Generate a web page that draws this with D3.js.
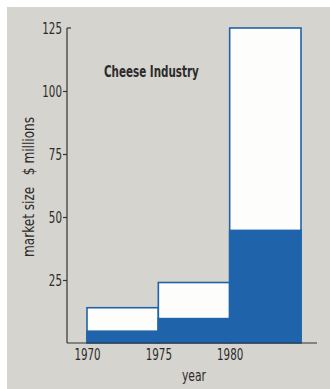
<!DOCTYPE html>
<html><head><meta charset="utf-8">
<script src="https://cdn.jsdelivr.net/npm/d3@7"></script>
<style>
html,body{margin:0;padding:0;background:#fff;}
svg{display:block;}
text{font-family:"DejaVu Sans Condensed","Liberation Sans Narrow",sans-serif;fill:#2b2b2b;}
</style></head><body>
<svg id="c" width="330" height="389"></svg>
<script>
const title = "Cheese Industry";
const years = [1970, 1975, 1980];
const totals = [14, 24, 125];
const blueParts = [5, 10, 45];
const yTicks = [25, 50, 75, 100, 125];
const xTicks = [1970, 1975, 1980];
const xLabel = "year";
const yLabel = "market size   $ millions";

const svg = d3.select("#c");
svg.append("rect").attr("x",7).attr("y",7).attr("width",323).attr("height",382).attr("fill","#d6d4cf");

const x = d3.scaleLinear().domain([1970,1985]).range([87,301]);
const y = d3.scaleLinear().domain([0,125]).range([343,28]);
const blue = "#1f63aa";

// horizontally narrow a text around its anchor point
function narrow(sel, sx){
  sel.each(function(){
    const t = d3.select(this);
    const tx = +t.attr("x")||0, ty = +t.attr("y")||0;
    const prev = t.attr("transform") || "";
    t.attr("x",0).attr("y",0).attr("transform", `translate(${tx},${ty}) scale(${sx},1)`);
  });
}

const data = years.map((yr,i)=>({yr, total:totals[i], b:blueParts[i]}));

const g = svg.append("g");
g.selectAll("rect.tot").data(data).join("rect").attr("class","tot")
  .attr("x",d=>x(d.yr)).attr("width",d=>x(d.yr+5)-x(d.yr))
  .attr("y",d=>y(d.total)).attr("height",d=>y(0)-y(d.total))
  .attr("fill","#fdfdfb").attr("stroke",blue).attr("stroke-width",1.6);
g.selectAll("rect.blu").data(data).join("rect").attr("class","blu")
  .attr("x",d=>x(d.yr)-0.8).attr("width",d=>x(d.yr+5)-x(d.yr)+1.6)
  .attr("y",d=>y(d.b)).attr("height",d=>y(0)-y(d.b))
  .attr("fill",blue);

// y axis
const yAxis = d3.axisLeft(y).tickValues(yTicks.filter(v=>v<125)).tickSize(4).tickPadding(1);
const ya = svg.append("g").attr("transform","translate(67,0)").call(yAxis);
ya.select(".domain").remove();
ya.attr("font-family",null).attr("font-size",null);
ya.append("line").attr("x1",0).attr("x2",0).attr("y1",y(125)).attr("y2",y(0)).attr("stroke","#333").attr("stroke-width",1.2);
ya.append("line").attr("x1",0).attr("x2",4).attr("y1",y(125)).attr("y2",y(125)).attr("stroke","#333").attr("stroke-width",1.2);
ya.append("g").append("text").attr("x",-5).attr("y",y(125)).attr("dy","0.35em").attr("text-anchor","end").text("125");
ya.selectAll(".tick line").attr("stroke","#333").attr("stroke-width",1.2);
ya.selectAll("text").attr("font-size",15.5).attr("fill","#2b2b2b").attr("dy",null).attr("dominant-baseline","central");
narrow(ya.selectAll("text"), 0.74);

// x axis
const xAxis = d3.axisBottom(x).tickValues(xTicks).tickSize(0).tickPadding(6).tickFormat(d3.format("d"));
const xa = svg.append("g").attr("transform","translate(0,343)").call(xAxis);
xa.select(".domain").remove();
xa.attr("font-family",null).attr("font-size",null);
xa.append("line").attr("x1",67).attr("x2",317).attr("y1",0).attr("y2",0).attr("stroke","#333").attr("stroke-width",1.2);
xa.selectAll("text").attr("font-size",15.5).attr("fill","#2b2b2b").attr("dy",null).attr("y",17);
narrow(xa.selectAll("text"), 0.74);

const xl = svg.append("text").attr("x",194).attr("y",381).attr("text-anchor","middle").attr("font-size",15).text(xLabel);
narrow(xl, 0.8);
svg.append("text").attr("transform","translate(34,187) rotate(-90) scale(0.9,1)").attr("text-anchor","middle").attr("font-size",15).attr("xml:space","preserve").style("white-space","pre").text(yLabel);
const tt = svg.append("text").attr("x",104).attr("y",77).attr("font-size",16).attr("font-weight","bold").text(title);
narrow(tt, 0.72);
</script></body></html>
